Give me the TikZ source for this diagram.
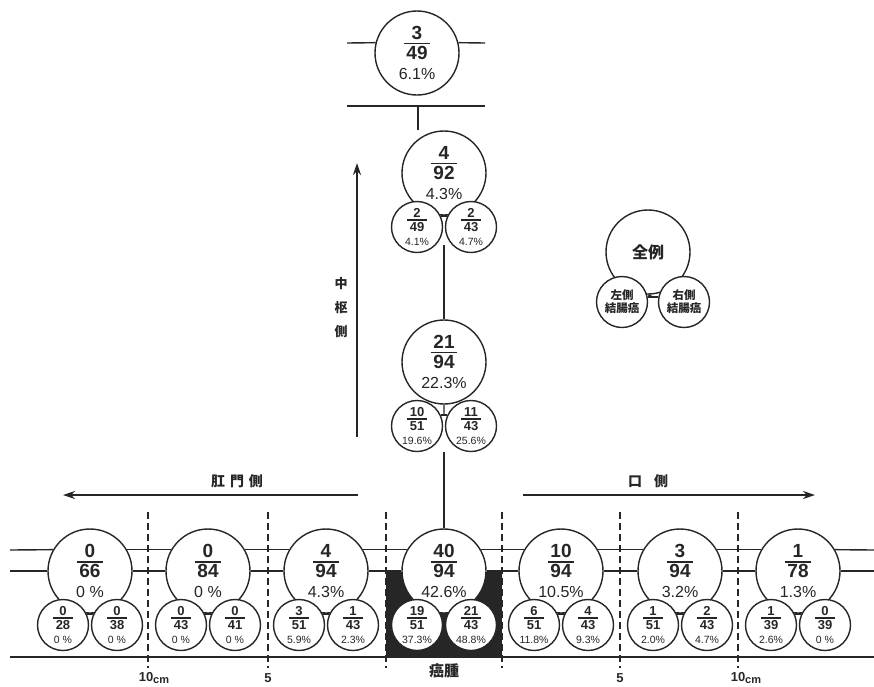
\documentclass[tikz,border=0pt]{standalone}
\usepackage{fontspec}
\setmainfont{Liberation Sans}
\newfontfamily\jpfont{Noto Sans CJK JP}
\usetikzlibrary{arrows.meta,calc}
\colorlet{ink}{black!85}
\newcommand{\frc}[2]{\begin{tabular}{@{\hspace{2.5pt}}c@{\hspace{2.5pt}}}#1\\[-2pt]\hline\noalign{\vskip 2pt}#2\end{tabular}}
\newcommand{\bpct}[1]{{\mdseries\fontsize{16}{16}\selectfont #1}}
\newcommand{\spct}[1]{{\mdseries\fontsize{10.5}{10.5}\selectfont #1}}
\setlength{\arrayrulewidth}{1.3pt}

\begin{document}
\begin{tikzpicture}[x=1pt, y=-1pt,
    bignode/.style={circle, draw=ink, line width=1.4pt, fill=white, minimum size=84pt, inner sep=0pt, align=center, text=ink, font=\bfseries\fontsize{19}{19}\selectfont},
    smallnode/.style={circle, draw=ink, line width=1.4pt, fill=white, minimum size=51pt, inner sep=0pt, align=center, text=ink, font=\bfseries\fontsize{13}{13}\selectfont},
    wall/.style={ink, line width=1.4pt},
    zone/.style={ink, line width=1.3pt, dash pattern=on 7pt off 4pt},
    dirarrow/.style={ink, line width=1.9pt, -{Stealth[length=12pt,width=8pt]}},
    jp/.style={text=ink, font=\jpfont\bfseries\fontsize{14}{14}\selectfont},
    tick/.style={text=ink, font=\bfseries\fontsize{13}{13}\selectfont}
]
\useasboundingbox (0,0) rectangle (874,686);

% scale and tumour zone
\foreach \x in {148,268,386,502,620,738}
    \draw[zone] (\x,512) -- (\x,668);
\fill[ink] (386,572) rectangle (502,657);
\coordinate (bl) at (10,657);
\coordinate (br) at (874,657);
\draw[wall] (bl) -- (br);

% bottom row
\foreach \i/\x/\a/\b/\p/\la/\lb/\lp/\ra/\rb/\rp in {
    1/90/0/66/0~\%/0/28/0~\%/0/38/0~\%,
    2/208/0/84/0~\%/0/43/0~\%/0/41/0~\%,
    3/326/4/94/4.3\%/3/51/5.9\%/1/43/2.3\%,
    4/444/40/94/42.6\%/19/51/37.3\%/21/43/48.8\%,
    5/561/10/94/10.5\%/6/51/11.8\%/4/43/9.3\%,
    6/680/3/94/3.2\%/1/51/2.0\%/2/43/4.7\%,
    7/798/1/78/1.3\%/1/39/2.6\%/0/39/0~\%}{
    \node[bignode] (b\i) at (\x,571) {\frc{\a}{\b}\\[2pt]\bpct{\p}};
    \node[smallnode] (b\i l) at (\x-27,625) {\frc{\la}{\lb}\\[1.5pt]\spct{\lp}};
    \node[smallnode] (b\i r) at (\x+27,625) {\frc{\ra}{\rb}\\[1.5pt]\spct{\rp}};
    \draw[wall] (b\i l.25) -- (b\i r.155);
    \draw[wall] (b\i.south) -- ($(b\i l.25)!.5!(b\i r.155)$);
}
\foreach \i [evaluate=\i as \j using int(\i+1)] in {1,...,6}{
    \draw[wall] (b\i.30) -- (b\j.150);
    \draw[wall] (b\i.east) -- (b\j.west);
}
\coordinate (wl1) at (10,550);
\coordinate (wl2) at (10,571);
\coordinate (wr1) at (874,550);
\coordinate (wr2) at (874,571);
\draw[wall] (wl1) -- (b1.150);
\draw[wall] (wl2) -- (b1.west);
\draw[wall] (b7.30) -- (wr1);
\draw[wall] (b7.east) -- (wr2);

% tick labels
\node[tick] (t10l) at (146,678) {10\rlap{\raisebox{-2pt}{\fontsize{11}{11}\selectfont cm}}};
\node[tick] (t5l) at (268,678) {5};
\node[tick] (t5r) at (620,678) {5};
\node[tick] (t10r) at (738,678) {10\rlap{\raisebox{-2pt}{\fontsize{11}{11}\selectfont cm}}};
\node[jp, font=\jpfont\bfseries\fontsize{15}{15}\selectfont] (tumour) at (444,671) {癌腫};

% central chain
\node[bignode] (g2) at (444,173) {\frc{4}{92}\\[2pt]\bpct{4.3\%}};
\node[smallnode] (g2l) at (417,227) {\frc{2}{49}\\[1.5pt]\spct{4.1\%}};
\node[smallnode] (g2r) at (471,227) {\frc{2}{43}\\[1.5pt]\spct{4.7\%}};
\node[bignode] (g3) at (444,362) {\frc{21}{94}\\[2pt]\bpct{22.3\%}};
\node[smallnode] (g3l) at (417,426) {\frc{10}{51}\\[1.5pt]\spct{19.6\%}};
\node[smallnode] (g3r) at (471,426) {\frc{11}{43}\\[1.5pt]\spct{25.6\%}};
\foreach \g in {g2,g3}{
    \draw[wall] (\g l.25) -- (\g r.155);
    \draw[wall] (\g.south) -- ($(\g l.25)!.5!(\g r.155)$);
}
\draw[wall] ([yshift=8pt]$(g2l.south)!.5!(g2r.south)$) -- (g3.north);
\draw[wall] ($(g3l.south)!.5!(g3r.south)$) -- (b4.north);

% top node
\node[bignode] (top) at (417,53) {\frc{3}{49}\\[2pt]\bpct{6.1\%}};
\coordinate (tw) at (347,43);
\coordinate (te) at (485,43);
\draw[wall] (tw) -- (top.166);
\draw[wall] (top.14) -- (te);
\coordinate (lw) at (347,106);
\coordinate (le) at (485,106);
\coordinate (tj) at (418,106);
\draw[wall] (lw) -- (le);
\draw[wall] (tj) -- (tj |- g2.north);

% legend
\node[bignode, font=\jpfont\bfseries\fontsize{16}{16}\selectfont] (key) at (648,252) {全例};
\node[smallnode, font=\jpfont\bfseries\fontsize{11.5}{13}\selectfont] (keyl) at (622,302) {左側\\結腸癌};
\node[smallnode, font=\jpfont\bfseries\fontsize{11.5}{13}\selectfont] (keyr) at (684,302) {右側\\結腸癌};
\draw[wall] (keyl.11) -- (keyr.169);
\draw[wall] (key.south) -- ($(keyl.11)!.5!(keyr.169)$);

% directions
\node[jp] (anal) at (237,481) {肛\hspace{5pt}門\hspace{5pt}側};
\coordinate (a1) at (358,495);
\coordinate (a2) at (63,495);
\draw[dirarrow] (a1) -- (a2);
\node[jp] (oral) at (648,481) {口\hspace{12pt}側};
\coordinate (o1) at (523,495);
\coordinate (o2) at (815,495);
\draw[dirarrow] (o1) -- (o2);
\node[jp, font=\jpfont\bfseries\fontsize{13}{24}\selectfont, align=center] (central) at (341,308) {中\\枢\\側};
\coordinate (c1) at (357,437);
\coordinate (c2) at (357,163);
\draw[dirarrow] (c1) -- (c2);
\end{tikzpicture}
\end{document}
